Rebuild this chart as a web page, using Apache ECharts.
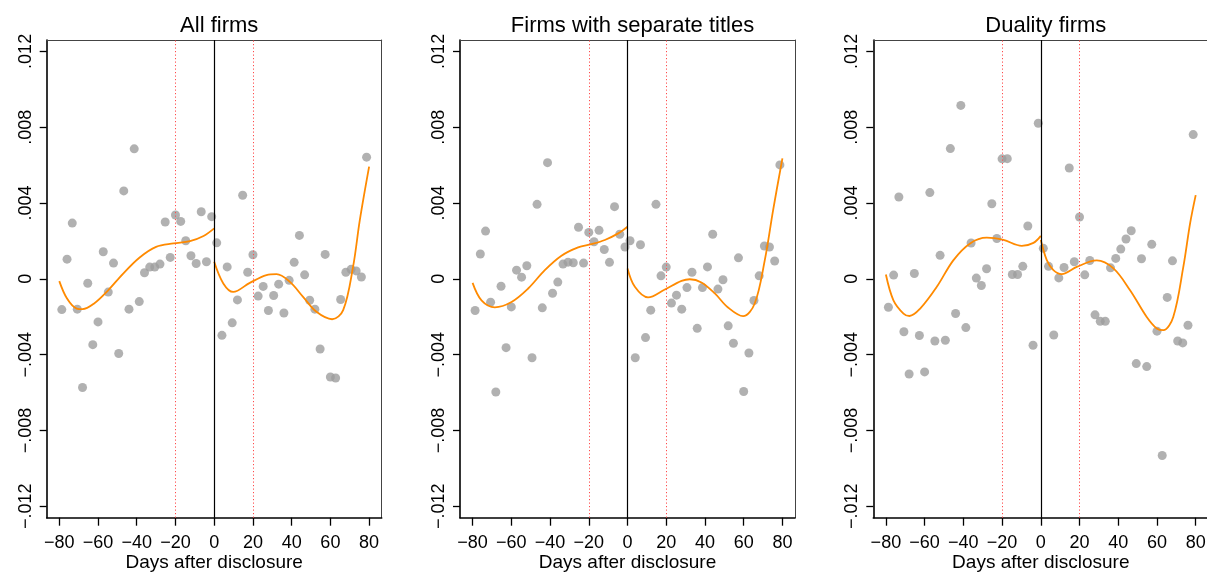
<!DOCTYPE html>
<html>
<head>
<meta charset="utf-8">
<title>Abnormal returns around disclosure</title>
<script src="https://cdn.jsdelivr.net/npm/echarts@6/dist/echarts.min.js"></script>
<style>
  html, body { margin: 0; padding: 0; background: #ffffff; }
  #chart { width: 1207px; height: 572px; }
</style>
</head>
<body>
<div id="chart"></div>
<script>
// Bin centres (days relative to disclosure)
const days = [-78.7, -76, -73.3, -70.7, -68, -65.3, -62.7, -60, -57.3, -54.7,
  -52, -49.3, -46.7, -44, -41.3, -38.7, -36, -33.3, -30.7, -28,
  -25.3, -22.7, -20, -17.3, -14.7, -12, -9.3, -6.7, -4, -1.3,
  1.3, 4, 6.7, 9.3, 12, 14.7, 17.3, 20, 22.7, 25.3,
  28, 30.7, 33.3, 36, 38.7, 41.3, 44, 46.7, 49.3, 52,
  54.7, 57.3, 60, 62.7, 65.3, 68, 70.7, 73.3, 76, 78.7];

// Mean abnormal return per bin
const allFirms = [-0.00162, 0.00104, 0.00294, -0.0016, -0.00573, -0.00023, -0.00347, -0.00227, 0.00143, -0.0007,
  0.00083, -0.00394, 0.00464, -0.0016, 0.00686, -0.0012, 0.00032, 0.00062, 0.00062, 0.00078,
  0.003, 0.00113, 0.00337, 0.00303, 0.00201, 0.00122, 0.00081, 0.00354, 0.0009, 0.00328,
  0.0019, -0.00298, 0.00063, -0.00232, -0.00111, 0.00441, 0.00035, 0.00127, -0.00091, -0.0004,
  -0.00167, -0.00088, -0.00028, -0.0018, -0.00008, 0.00087, 0.00229, 0.00021, -0.00113, -0.0016,
  -0.0037, 0.00129, -0.00518, -0.00523, -0.00109, 0.00035, 0.0005, 0.00042, 0.0001, 0.00642];

const separateTitles = [-0.00167, 0.00131, 0.00252, -0.00123, -0.00597, -0.00039, -0.00363, -0.00148, 0.00046, 0.00009,
  0.00069, -0.00416, 0.00393, -0.00153, 0.00613, -0.00076, -0.00017, 0.00078, 0.00088, 0.00085,
  0.00272, 0.00083, 0.00245, 0.00196, 0.00256, 0.00155, 0.00087, 0.00381, 0.00235, 0.00168,
  0.00201, -0.00416, 0.0018, -0.0031, -0.00165, 0.00393, 0.00016, 0.00062, -0.00128, -0.00086,
  -0.0016, -0.00046, 0.00035, -0.00261, -0.00046, 0.00063, 0.00235, -0.00054, -0.00005, -0.00248,
  -0.0034, 0.00111, -0.00594, -0.00391, -0.00114, 0.00016, 0.00173, 0.00168, 0.00094, 0.00601];

const dualityFirms = [-0.0015, 0.0002, 0.00432, -0.00279, -0.00502, 0.00028, -0.00299, -0.00491, 0.00455, -0.00328,
  0.00124, -0.00324, 0.00687, -0.00183, 0.00915, -0.00257, 0.00189, 0.00004, -0.00035, 0.00053,
  0.00396, 0.00213, 0.00633, 0.00634, 0.00023, 0.00023, 0.00066, 0.00279, -0.0035, 0.00821,
  0.00161, 0.00066, -0.00296, 0.00005, 0.0006, 0.00585, 0.0009, 0.00326, 0.00021, 0.00097,
  -0.0019, -0.00224, -0.00224, 0.00058, 0.00108, 0.00157, 0.0021, 0.00254, -0.00447, 0.00106,
  -0.00463, 0.00182, -0.00276, -0.00932, -0.00098, 0.00095, -0.00328, -0.00338, -0.00245, 0.00761];

// Fitted curves, before and after disclosure
const allPreX  = [-80, -76, -71, -68, -62, -55, -47, -38.5, -30, -21, -12.5, -5.5, 0];
const allPreY  = [-0.00012, -0.00104, -0.00157, -0.0016, -0.0013, -0.00063, 0.00028, 0.00113, 0.00169, 0.00187, 0.00199, 0.00226, 0.00266];
const allPostX = [0, 4.7, 9.8, 18.4, 27, 32.2, 39.1, 45.9, 52.8, 60.9, 66.6, 71.7, 75.2, 80];
const allPostY = [0.0009, -0.00024, -0.00069, -0.00021, 0.0002, 0.00025, -0.00016, -0.00095, -0.00174, -0.00213, -0.00165, 0.00063, 0.0031, 0.00592];

const sepPreX  = [-80, -75.4, -68.5, -59.9, -51.3, -42.7, -34.1, -25.5, -18.6, -11.7, -4.8, 0];
const sepPreY  = [-0.00021, -0.00113, -0.0015, -0.00122, -0.00051, 0.00046, 0.00122, 0.00166, 0.00183, 0.00205, 0.0024, 0.00275];
const sepPostX = [0, 3.8, 10.6, 19.3, 27.9, 32.2, 38.2, 45.1, 51.9, 59.7, 65.7, 70.9, 75.2, 80];
const sepPostY = [0.00055, -0.00042, -0.00098, -0.00056, -0.00011, -0.00002, -0.00019, -0.00077, -0.00151, -0.00197, -0.0013, 0.00099, 0.00363, 0.00636];

const dualPreX  = [-80, -76.1, -70.9, -67.8, -62.3, -53.7, -45.1, -36.5, -27.9, -19.3, -9.8, -3.8, 0];
const dualPreY  = [0.00023, -0.00113, -0.00183, -0.00196, -0.00157, -0.00042, 0.00099, 0.00187, 0.00217, 0.00205, 0.00174, 0.0019, 0.00227];
const dualPostX = [0, 3.1, 6.5, 10.8, 18.6, 28.9, 37.5, 46.1, 54.7, 59.9, 63.3, 68.4, 73.6, 77.1, 80];
const dualPostY = [0.00205, 0.00099, 0.00046, 0.00025, 0.00063, 0.00097, 0.00055, -0.0006, -0.00201, -0.00262, -0.00271, -0.00201, 0.00063, 0.00293, 0.00442];

// Panel titles
const panelTitles = ['All firms', 'Firms with separate titles', 'Duality firms'];

// Axis ticks and their labels
const xTicks = [-80, -60, -40, -20, 0, 20, 40, 60, 80];
const xTickLabels = ['\u221280', '\u221260', '\u221240', '\u221220', '0', '20', '40', '60', '80'];
const yTicks = [-0.012, -0.008, -0.004, 0, 0.004, 0.008, 0.012];
const yTickLabels = ['\u2212.012', '\u2212.008', '\u2212.004', '0', '.004', '.008', '.012'];

// Event window reference lines
const windowLines = [-20, 20];
const eventLine = 0;

const xTitle = 'Days after disclosure';

const FONT = '"Liberation Sans", Arial, Helvetica, sans-serif';

function labelFor(ticks, labels, v) {
  let best = 0;
  for (let i = 1; i < ticks.length; i++) {
    if (Math.abs(ticks[i] - v) < Math.abs(ticks[best] - v)) best = i;
  }
  return labels[best];
}

function zip(xs, ys) { return xs.map((x, i) => [x, ys[i]]); }

const panels = [
  { points: allFirms, pre: zip(allPreX, allPreY), post: zip(allPostX, allPostY) },
  { points: separateTitles, pre: zip(sepPreX, sepPreY), post: zip(sepPostX, sepPostY) },
  { points: dualityFirms, pre: zip(dualPreX, dualPreY), post: zip(dualPostX, dualPostY) }
];

// Panel placement (pixels)
const gridLefts = [46.7, 460, 873.3];
const gridTop = 40;
const gridWidth = 335;
const gridHeight = 477.7;
const xMin = -86.5, xMax = 86.5;
const yMin = -0.0126, yMax = 0.0126;

const grids = [], xAxes = [], yAxes = [], series = [], titles = [];

// plain frame line used for the top and right edges of each plot region
const frameAxis = {
  type: 'value',
  axisLine: { show: true, onZero: false, lineStyle: { color: '#444', width: 1 } },
  axisTick: { show: false }, axisLabel: { show: false }, splitLine: { show: false }
};

panels.forEach((p, i) => {
  grids.push({
    left: gridLefts[i], top: gridTop, width: gridWidth, height: gridHeight,
    outerBoundsMode: 'none', containLabel: false, show: false
  });
  xAxes.push({
    gridIndex: i, type: 'value', min: xMin, max: xMax, position: 'bottom',
    axisLine: { show: true, onZero: false, lineStyle: { color: '#000', width: 1.6 } },
    axisTick: { show: true, length: 8, customValues: xTicks, lineStyle: { color: '#000', width: 1.3 } },
    axisLabel: {
      customValues: xTicks, margin: 16, fontSize: 18, color: '#000', fontFamily: FONT,
      hideOverlap: false, showMinLabel: true, showMaxLabel: true,
      formatter: v => labelFor(xTicks, xTickLabels, v)
    },
    splitLine: { show: false },
    name: xTitle, nameLocation: 'middle', nameGap: 36, nameMoveOverlap: false,
    nameTextStyle: { fontSize: 19, color: '#000', fontFamily: FONT }
  });
  yAxes.push({
    gridIndex: i, type: 'value', min: yMin, max: yMax, position: 'left',
    axisLine: { show: true, onZero: false, lineStyle: { color: '#000', width: 1.6 } },
    axisTick: { show: true, length: 7, customValues: yTicks, lineStyle: { color: '#000', width: 1.3 } },
    axisLabel: {
      customValues: yTicks, rotate: 90, margin: 12, fontSize: 18, color: '#000', fontFamily: FONT,
      hideOverlap: false, showMinLabel: true, showMaxLabel: true,
      formatter: v => labelFor(yTicks, yTickLabels, v)
    },
    splitLine: { show: false }
  });

  // reference lines
  series.push({
    type: 'line', xAxisIndex: i, yAxisIndex: i, data: [], z: 1, silent: true,
    markLine: {
      silent: true, symbol: ['none', 'none'], label: { show: false }, animation: false,
      data: windowLines.map(v => ({
        xAxis: v, lineStyle: { type: [1.2, 2.3], color: '#ff4a4a', width: 1 }
      })).concat([{ xAxis: eventLine, lineStyle: { type: 'solid', color: '#000', width: 1.2 } }])
    }
  });

  series.push({
    type: 'scatter', xAxisIndex: i, yAxisIndex: i, z: 3,
    data: zip(days, p.points),
    symbol: 'circle', symbolSize: 9,
    itemStyle: { color: '#9d9d9d' }
  });

  [p.pre, p.post].forEach(seg => {
    series.push({
      type: 'line', xAxisIndex: i, yAxisIndex: i, z: 4,
      data: seg, smooth: 0.35, showSymbol: false, symbol: 'none',
      lineStyle: { color: '#ff8a00', width: 1.8 }
    });
  });

  titles.push({
    text: panelTitles[i],
    left: gridLefts[i] + (0 - xMin) / (xMax - xMin) * gridWidth,
    top: 10, textAlign: 'center',
    textStyle: { fontSize: 22, fontWeight: 'normal', color: '#000', fontFamily: FONT }
  });
});

// top frame edges for every panel, right frame edges where they fall inside the canvas
panels.forEach((p, i) => {
  xAxes.push(Object.assign({}, frameAxis, { gridIndex: i, min: xMin, max: xMax, position: 'top' }));
  if (gridLefts[i] + gridWidth < 1206) {
    yAxes.push(Object.assign({}, frameAxis, { gridIndex: i, min: yMin, max: yMax, position: 'right' }));
  }
});

const chart = echarts.init(document.getElementById('chart'), null, { renderer: 'canvas' });
chart.setOption({
  animation: false,
  backgroundColor: '#ffffff',
  title: titles,
  grid: grids,
  xAxis: xAxes,
  yAxis: yAxes,
  series: series
});
</script>
</body>
</html>
